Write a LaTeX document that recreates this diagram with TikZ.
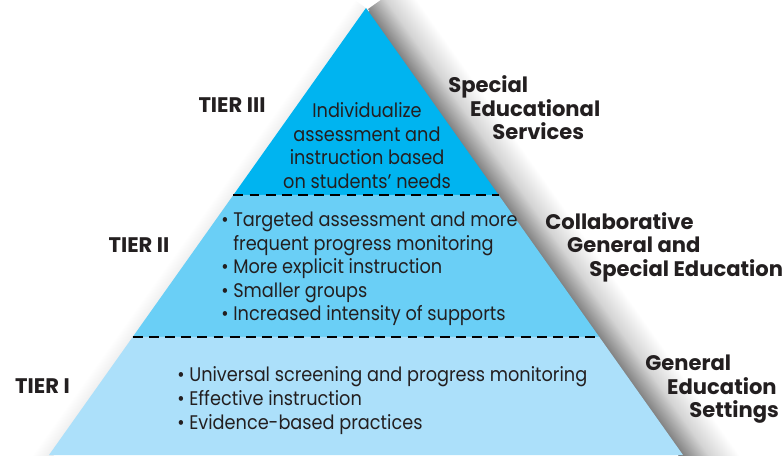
\documentclass[tikz,border=0pt]{standalone}
\usepackage{fontspec}
\setmainfont{Poppins}[FakeStretch=0.9]
\newfontfamily\headfont{Poppins}
\usetikzlibrary{calc}

\definecolor{tierthree}{RGB}{0,180,240}
\definecolor{tiertwo}{RGB}{106,207,246}
\definecolor{tierone}{RGB}{172,224,250}
\definecolor{inkgray}{RGB}{35,31,32}

\tikzset{
  tiertext/.style={font=\fontsize{14}{16.8}\selectfont, text=inkgray, align=left, inner sep=0pt},
  tierlabel/.style={font=\headfont\bfseries\fontsize{15}{16.7}\selectfont, text=inkgray, inner sep=0pt},
  sidelabel/.style={tierlabel, align=left, anchor=west},
  divider/.style={line width=1.6pt, dash pattern=on 7pt off 4.5pt}
}

\begin{document}
\begin{tikzpicture}[x=0.025cm,y=0.025cm]
	\useasboundingbox (0,0) rectangle (784,455);
	\clip (0,0) rectangle (784,455);
	\coordinate (apex) at (366,447);
	\coordinate (bl) at (49,0);
	\coordinate (br) at (683,0);
	\coordinate (l3) at ($(apex)!0.4183!(bl)$);
	\coordinate (r3) at ($(apex)!0.4183!(br)$);
	\coordinate (l2) at ($(apex)!0.736!(bl)$);
	\coordinate (r2) at ($(apex)!0.736!(br)$);
	% shadow along the right side
	\begin{scope}[transform canvas={shift={(366,447)},rotate=-54.66}]
		\shade[top color=white, bottom color=black!55, middle color=black!17] (2,-4) rectangle (600,46);
	\end{scope}
	\begin{scope}[transform canvas={shift={(366,447)},rotate=-125.34}]
		\shade[top color=black!8, bottom color=white] (0,-14) rectangle (600,4);
	\end{scope}
	% tiers
	\fill[tierthree] (apex) -- (r3) -- (l3) -- cycle;
	\fill[tiertwo] (l3) -- (r3) -- (r2) -- (l2) -- cycle;
	\fill[tierone] (l2) -- (r2) -- (br) -- (bl) -- cycle;
	\draw[divider] (l3) -- (r3);
	\draw[divider] (l2) -- (r2);
	% texts inside
	\node[tiertext, align=center] (needs) at (367,309.5) {Individualize\\assessment and\\instruction based\\on students’ needs};
	\node[tiertext, anchor=west] (targeted) at (221,186) {\textbullet\ Targeted assessment and more\\\phantom{\textbullet\ }frequent progress monitoring\\\textbullet\ More explicit instruction\\\textbullet\ Smaller groups\\\textbullet\ Increased intensity of supports};
	\node[tiertext, anchor=west] (universal) at (177,54.5) {\textbullet\ Universal screening and progress monitoring\\\textbullet\ Effective instruction\\\textbullet\ Evidence-based practices};
	% tier names
	\node[tierlabel] (tier3) at (232,350) {TIER III};
	\node[tierlabel] (tier2) at (139,210) {TIER II};
	\node[tierlabel] (tier1) at (42.5,69) {TIER I};
	% settings
	\node[sidelabel] (special) at (448,347) {Special\\\hspace{15.6pt}Educational\\\hspace{31.3pt}Services};
	\node[sidelabel] (collab) at (545,208) {Collaborative\\\hspace{15.6pt}General and\\\hspace{31.3pt}Special Education};
	\node[sidelabel] (general) at (645,65.5) {General\\\hspace{15.6pt}Education\\\hspace{31.3pt}Settings};
\end{tikzpicture}
\end{document}
